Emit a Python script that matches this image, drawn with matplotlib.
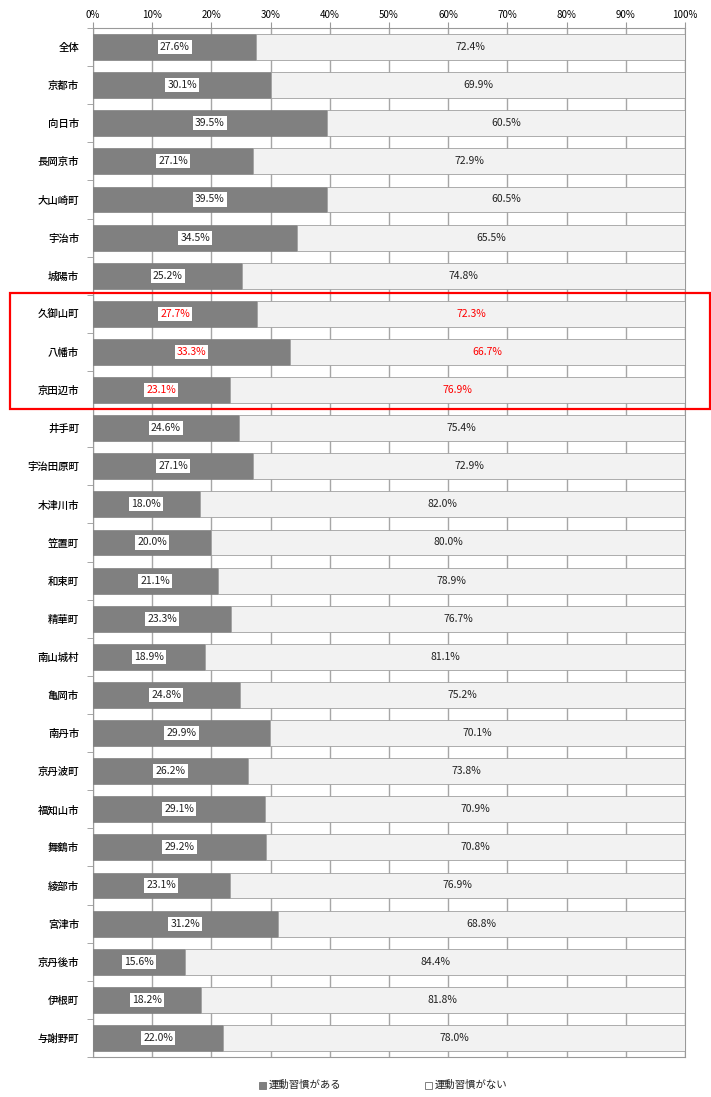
import matplotlib
matplotlib.use('Agg')
import matplotlib.pyplot as plt
from matplotlib.patches import Rectangle
import numpy as np

plt.rcParams['font.family'] = ['Noto Sans CJK JP', 'DejaVu Sans']

areas = ['全体', '京都市', '向日市', '長岡京市', '大山崎町', '宇治市', '城陽市',
         '久御山町', '八幡市', '京田辺市', '井手町', '宇治田原町', '木津川市', '笠置町',
         '和束町', '精華町', '南山城村', '亀岡市', '南丹市', '京丹波町', '福知山市',
         '舞鶴市', '綾部市', '宮津市', '京丹後市', '伊根町', '与謝野町']
has_habit = [27.6, 30.1, 39.5, 27.1, 39.5, 34.5, 25.2, 27.7, 33.3, 23.1, 24.6, 27.1,
             18.0, 20.0, 21.1, 23.3, 18.9, 24.8, 29.9, 26.2, 29.1, 29.2, 23.1, 31.2,
             15.6, 18.2, 22.0]
no_habit = [72.4, 69.9, 60.5, 72.9, 60.5, 65.5, 74.8, 72.3, 66.7, 76.9, 75.4, 72.9,
            82.0, 80.0, 78.9, 76.7, 81.1, 75.2, 70.1, 73.8, 70.9, 70.8, 76.9, 68.8,
            84.4, 81.8, 78.0]
highlight = ['久御山町', '八幡市', '京田辺市']

fig = plt.figure(figsize=(7.11, 10.97), dpi=100)
ax = fig.add_axes([93/711, 1-1057/1097, 592/711, 1029/1097])

y = np.arange(len(areas))
h = 0.68
ax.barh(y, has_habit, height=h, color='#808080', edgecolor='#808080', linewidth=0.5, zorder=3)
ax.barh(y, no_habit, left=has_habit, height=h, color='#f2f2f2', edgecolor='#a0a0a0', linewidth=0.6, zorder=3)

for i, name in enumerate(areas):
    c = '#ff0000' if name in highlight else '#222222'
    ax.text(has_habit[i] / 2, i, f'{has_habit[i]:.1f}%', ha='center', va='center', fontsize=7.5,
            color=c, zorder=5, bbox=dict(boxstyle='square,pad=0.2', fc='white', ec='none'))
    ax.text(has_habit[i] + no_habit[i] / 2, i, f'{no_habit[i]:.1f}%', ha='center', va='center',
            fontsize=7.5, color=c, zorder=5)

ax.set_xlim(0, 100)
ax.set_ylim(len(areas) - 0.5, -0.5)
ax.set_xticks(np.arange(0, 101, 10))
ax.set_xticklabels([f'{v}%' for v in range(0, 101, 10)], fontsize=7)
ax.xaxis.tick_top()
ax.tick_params(axis='x', length=4, color='#999999', pad=2)
ax.set_yticks(y)
ax.set_yticklabels(areas, fontsize=7.5, fontweight='medium')
ax.tick_params(axis='y', length=0, pad=10)
ax.set_yticks(np.arange(-0.5, len(areas), 1), minor=True)
ax.tick_params(axis='y', which='minor', length=4, color='#999999')
ax.grid(axis='x', color='#a6a6a6', linewidth=1, zorder=0)
for s in ax.spines.values():
    s.set_color('#999999')
    s.set_linewidth(0.8)

# red highlight frame in figure pixels
fig.patches.append(Rectangle((10/711, 1-409/1097), 700/711, 116/1097, transform=fig.transFigure,
                             fill=False, edgecolor='#ff0000', linewidth=1.6))

# legend
ly = 1 - 1085/1097
for x0, fc, lab in [(259, '#808080', '運動習慣がある'), (425, '#ffffff', '運動習慣がない')]:
    fig.patches.append(Rectangle((x0/711, ly - 3.5/1097), 7/711, 7/1097, transform=fig.transFigure,
                                 facecolor=fc, edgecolor='#808080', linewidth=0.7))
    fig.text((x0 + 10)/711, ly, lab, color='#222222', fontsize=7.5, va='center')

fig.savefig('out.png', dpi=100)
